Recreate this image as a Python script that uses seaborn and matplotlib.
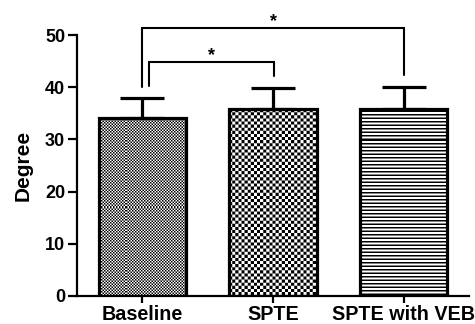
import numpy as np
import matplotlib
matplotlib.use("Agg")
import matplotlib.pyplot as plt
import seaborn as sns

# Group means and standard deviations (degrees)
categories = ["Baseline", "SPTE", "SPTE with VEB"]
means = [34.1, 35.8, 35.9]
sds = [3.9, 4.0, 4.1]
y_ticks = [0, 10, 20, 30, 40, 50]
y_label = "Degree"

# Significance brackets: compared groups, bracket height, leg end heights, label
comparisons = [(0, 1), (0, 2)]
bracket_tops = [44.8, 51.3]
left_leg_ends = [40.3, 40.1]
right_leg_ends = [42.1, 42.3]
bracket_labels = ["*", "*"]

sns.set_style("ticks")
plt.rcParams["font.family"] = ["Liberation Sans", "DejaVu Sans"]
plt.rcParams["font.weight"] = "bold"
for key in ("text.color", "axes.labelcolor", "xtick.color", "ytick.color",
            "axes.edgecolor"):
    plt.rcParams[key] = "black"

fig = plt.figure(figsize=(4.75, 3.24), dpi=100)
ax = fig.add_axes([77 / 475, 1 - 296 / 324, 392 / 475, 261 / 324])

sns.barplot(x=categories, y=means, ax=ax, width=0.667, errorbar=None,
            color="white", edgecolor="black", linewidth=2.3, zorder=2)

ax.errorbar(np.arange(len(categories)), means,
            yerr=[np.zeros(len(sds)), sds], fmt="none", ecolor="black",
            elinewidth=2.3, capsize=16, capthick=2.3, zorder=3)

ax.set_xlim(-0.5, len(categories) - 0.5)
ax.set_ylim(0, 50)


def fill_texture(kind, w, h, ss=4):
    """Pattern in display pixels, supersampled then averaged (1 = white)."""
    ys, xs = np.mgrid[0:h * ss, 0:w * ss] / ss
    if kind == "fine_check":
        v = (np.floor(xs / 1.5) + np.floor(ys / 1.5)) % 2
    elif kind == "coarse_check":
        v = (np.floor(xs / 3.1) + np.floor(ys / 3.1)) % 2
    else:  # horizontal stripes
        v = ((ys % 3.5) >= 1.3).astype(float)
    return v.reshape(h, ss, w, ss).mean(axis=(1, 3))


fill_kinds = ["fine_check", "coarse_check", "stripes"]
inv = ax.transData.inverted()
bars = list(ax.patches)
for patch, kind in zip(bars, fill_kinds):
    bb = patch.get_window_extent()
    x0, x1 = int(np.floor(bb.x0)), int(np.ceil(bb.x1))
    y0, y1 = int(np.floor(bb.y0)), int(np.ceil(bb.y1))
    arr = fill_texture(kind, x1 - x0, y1 - y0)
    dx0, dy0 = inv.transform((x0, y0))
    dx1, dy1 = inv.transform((x1, y1))
    im = ax.imshow(arr, cmap="gray", vmin=0, vmax=1, origin="upper",
                   extent=(dx0, dx1, dy0, dy1), interpolation="nearest",
                   aspect="auto", zorder=1.9)
    im.set_clip_path(patch)
    patch.set_facecolor("none")

ax.set_xlim(-0.5, len(categories) - 0.5)
ax.set_ylim(0, 50)

# Significance brackets drawn above the axes
left_offsets = [0.05, 0.0]
for (i, j), top, le, re, lab, off in zip(comparisons, bracket_tops,
                                         left_leg_ends, right_leg_ends,
                                         bracket_labels, left_offsets):
    xl, xr = i + off, j + (0.01 if j == 1 else 0.0)
    ax.plot([xl, xl, xr, xr], [le, top, top, re], color="black", lw=1.5,
            clip_on=False, solid_joinstyle="miter", zorder=4)
    ax.text((xl + xr) / 2, top + 0.4, lab, ha="center", va="baseline",
            fontsize=13, fontweight="bold", clip_on=False)

sns.despine(ax=ax)
for side in ("left", "bottom"):
    ax.spines[side].set_linewidth(1.6)
ax.set_yticks(y_ticks)
ax.tick_params(axis="y", length=6.5, width=1.6, pad=2, labelsize=13)
ax.tick_params(axis="x", length=5, width=1.6, pad=1.5, labelsize=14.2)
for lbl in ax.get_xticklabels() + ax.get_yticklabels():
    lbl.set_fontweight("bold")

ax.set_xlabel("")
ax.set_ylabel(y_label, fontsize=15, fontweight="bold")
ax.yaxis.set_label_coords(-0.112, 0.5)

fig.savefig("out.png", dpi=100)
